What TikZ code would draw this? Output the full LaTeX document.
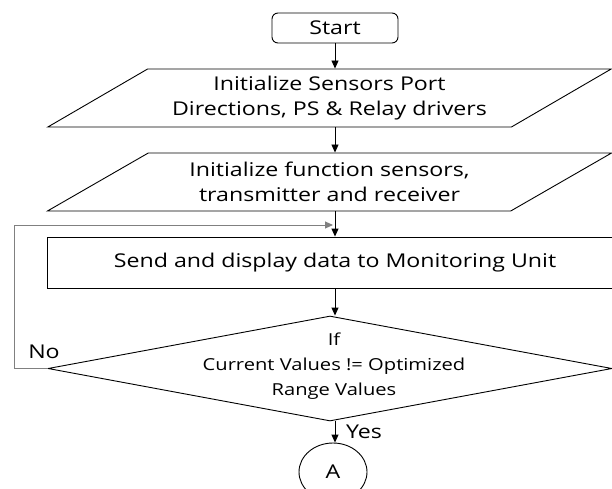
\documentclass[tikz,border=0pt]{standalone}
\usepackage{fontspec}
\setmainfont[FakeStretch=1.22]{Open Sans}
\usetikzlibrary{arrows.meta,shapes.geometric}

\begin{document}
\begin{tikzpicture}[x=1pt,y=-1pt,line width=0.9pt,>={Triangle[length=8pt,width=7pt]},
  every node/.style={font=\fontsize{19}{25}\selectfont,align=center,inner sep=0pt},
  termbox/.style={draw,rounded corners=6pt,minimum width=126pt,minimum height=30pt},
  iobox/.style={draw,trapezium,trapezium left angle=27,trapezium right angle=153,
    trapezium stretches=true,minimum width=565pt,minimum height=58pt},
  procbox/.style={draw,rectangle,minimum width=576pt,minimum height=51pt},
  decbox/.style={draw,diamond,minimum width=564pt,minimum height=105pt},
  connbox/.style={draw,ellipse,minimum width=68pt,minimum height=58pt}]
  \useasboundingbox (0,0) rectangle (612,488);

    \node[termbox] (start) at (335,28) {Start};
    \node[iobox] (init1) at (329.5,98) {Initialize Sensors Port\\Directions, PS \& Relay drivers};
    \node[iobox] (init2) at (329.5,182) {Initialize function sensors,\\transmitter and receiver};
    \node[procbox] (send) at (335,262.5) {Send and display data to Monitoring Unit};
    \node[decbox] (check) at (330,368.5) {};
    \node[font=\fontsize{16.5}{25}\selectfont] (checktxt) at (334,366) {If\\Current Values != Optimized\\Range Values};
    \node[connbox] (conA) at (333,472) {A};
    \node (nolbl) at (44,352) {No};
    \node (yeslbl) at (364,432) {Yes};
    \coordinate (loopin) at (333,225);

  \foreach \from/\to in {start/init1,init1/init2,init2/send,send/check,check/conA}
  {
    \draw[->] (\from.south -| start) -- (\to.north -| start);
    }
  % back to the send step
  \draw[->,gray] (check.west) -- ++(-33,0) |- (loopin);
\end{tikzpicture}
\end{document}
